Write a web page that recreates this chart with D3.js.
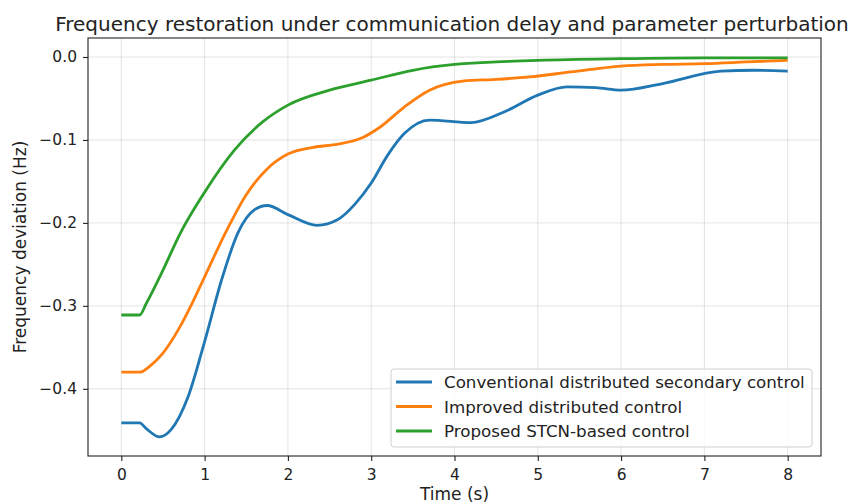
<!DOCTYPE html>
<html><head><meta charset="utf-8">
<script src="https://cdn.jsdelivr.net/npm/d3@7"></script>
<style>body{margin:0;background:#fff}svg{display:block}text{font-family:"DejaVu Sans",sans-serif;fill:#222}</style>
</head><body><svg id="c" width="855" height="504"></svg>
<script>
const title = "Frequency restoration under communication delay and parameter perturbation";
const xLabel = "Time (s)";
const yLabel = "Frequency deviation (Hz)";
const xTicks = [0,1,2,3,4,5,6,7,8];
const yTicks = [0.0,-0.1,-0.2,-0.3,-0.4];
const seriesNames = ["Conventional distributed secondary control","Improved distributed control","Proposed STCN-based control"];
const seriesColors = ["#1f77b4","#ff7f0e","#2ca02c"];
const tConv = [0,0.22,0.3,0.46,0.6,0.8,1.0,1.2,1.4,1.6,1.75,2.0,2.35,2.6,2.8,3.0,3.2,3.4,3.7,4.2,4.6,5.0,5.35,5.7,6.0,6.5,7.2,7.6,8.0];
const vConv = [-0.441,-0.441,-0.448,-0.458,-0.449,-0.41,-0.343,-0.27,-0.212,-0.184,-0.179,-0.19,-0.203,-0.196,-0.178,-0.152,-0.118,-0.092,-0.076,-0.079,-0.066,-0.046,-0.036,-0.037,-0.040,-0.032,-0.017,-0.016,-0.017];
const tImp = [0,0.22,0.35,0.5,0.7,0.85,1.0,1.25,1.5,1.75,2.0,2.3,2.6,2.9,3.1,3.4,3.7,4.1,4.5,4.9,5.4,6.0,6.5,7.0,7.5,8.0];
const vImp = [-0.380,-0.380,-0.372,-0.357,-0.326,-0.297,-0.265,-0.212,-0.166,-0.135,-0.117,-0.109,-0.105,-0.097,-0.085,-0.060,-0.040,-0.029,-0.027,-0.024,-0.018,-0.011,-0.009,-0.008,-0.006,-0.004];
const tProp = [0,0.22,0.3,0.5,0.7,1.0,1.36,1.7,2.0,2.5,3.0,3.5,4.0,4.5,5.0,6.0,7.0,8.0];
const vProp = [-0.311,-0.311,-0.297,-0.257,-0.214,-0.163,-0.112,-0.078,-0.058,-0.040,-0.028,-0.016,-0.009,-0.006,-0.004,-0.002,-0.001,-0.001];

const seriesT = [tConv,tImp,tProp], seriesV=[vConv,vImp,vProp];
const svg = d3.select("#c");
const L=88,R=821,T=38,B=456;
const x = d3.scaleLinear().domain([-0.4,8.4]).range([L,R]);
const y = d3.scaleLinear().domain([-0.481,0.0229]).range([B,T]);

// grid
svg.append("g").selectAll("line").data(xTicks).join("line")
  .attr("x1",d=>x(d)).attr("x2",d=>x(d)).attr("y1",T).attr("y2",B)
  .attr("stroke","#b0b0b0").attr("stroke-opacity",0.35).attr("stroke-width",1);
svg.append("g").selectAll("line").data(yTicks).join("line")
  .attr("y1",d=>y(d)).attr("y2",d=>y(d)).attr("x1",L).attr("x2",R)
  .attr("stroke","#b0b0b0").attr("stroke-opacity",0.35).attr("stroke-width",1);

// lines
const line = d3.line().curve(d3.curveMonotoneX);
seriesT.forEach((ts,i)=>{
  const pts = ts.map((t,j)=>[x(t),y(seriesV[i][j])]);
  svg.append("path").attr("d",line(pts)).attr("fill","none")
    .attr("stroke",seriesColors[i]).attr("stroke-width",2.8).attr("stroke-linejoin","round");
});

// axes
const fmt = d=> (d<0?"\u2212":"")+Math.abs(d).toFixed(1);
const xa = svg.append("g").attr("transform",`translate(0,${B})`)
  .call(d3.axisBottom(x).tickValues(xTicks).tickSize(5).tickPadding(8).tickFormat(d3.format("d")));
const ya = svg.append("g").attr("transform",`translate(${L},0)`)
  .call(d3.axisLeft(y).tickValues(yTicks).tickSize(5).tickPadding(6).tickFormat(fmt));
[xa,ya].forEach(g=>{g.select(".domain").remove();g.selectAll("line").attr("stroke","#222").attr("stroke-width",1.1);
  g.selectAll("text").attr("font-size",15.5).attr("font-family","DejaVu Sans").attr("fill","#222");});
svg.append("rect").attr("x",L).attr("y",T).attr("width",R-L).attr("height",B-T)
  .attr("fill","none").attr("stroke","#222").attr("stroke-width",1.1);

// labels
svg.append("text").attr("x",452).attr("y",31).attr("text-anchor","middle").attr("font-size",20).text(title);
svg.append("text").attr("x",(L+R)/2).attr("y",500).attr("text-anchor","middle").attr("font-size",17).text(xLabel);
svg.append("text").attr("transform",`translate(26,${(T+B)/2}) rotate(-90)`).attr("text-anchor","middle").attr("font-size",17).text(yLabel);

// legend
const lg = svg.append("g");
lg.append("rect").attr("x",391).attr("y",369).attr("width",421).attr("height",78).attr("rx",3)
  .attr("fill","#fff").attr("fill-opacity",0.8).attr("stroke","#d0d0d0").attr("stroke-width",1);
seriesNames.forEach((n,i)=>{
  const yy = 382 + i*24.5;
  lg.append("line").attr("x1",396).attr("x2",432).attr("y1",yy).attr("y2",yy).attr("stroke",seriesColors[i]).attr("stroke-width",2.8);
  lg.append("text").attr("x",444).attr("y",yy+6).attr("font-size",16.7).text(n);
});
</script></body></html>
